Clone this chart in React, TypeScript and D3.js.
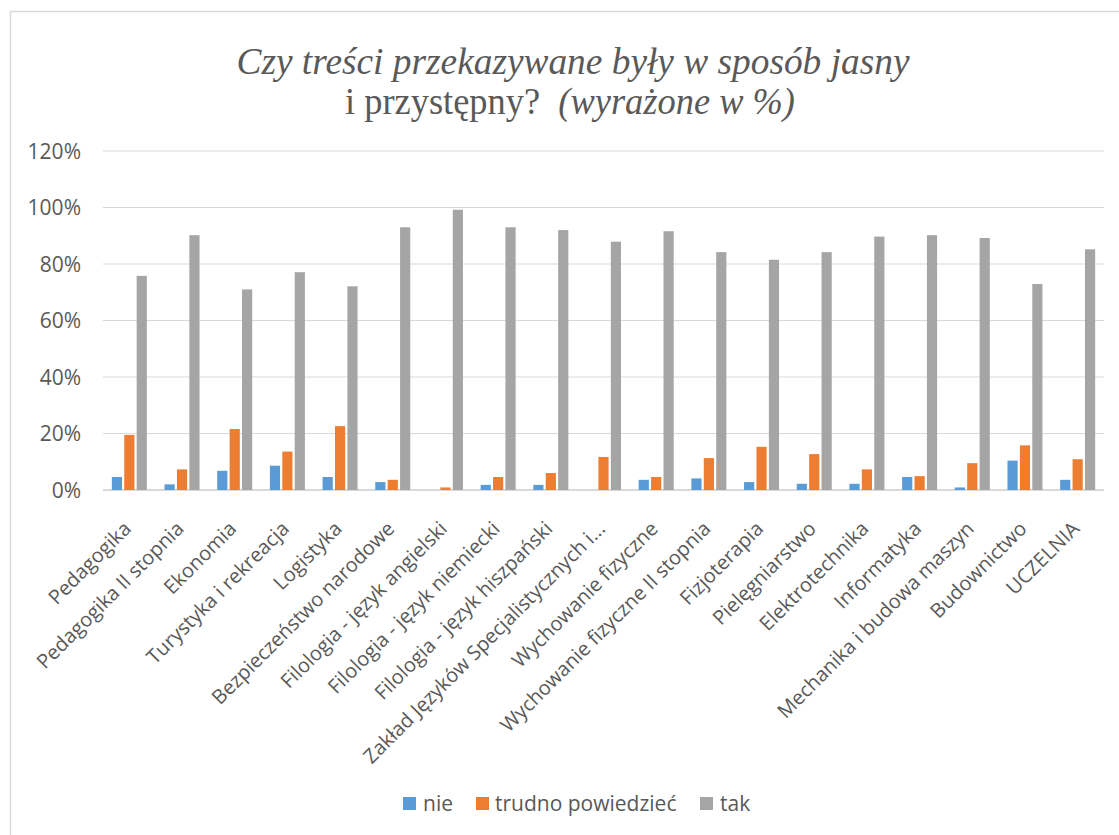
import React from "react";
import * as d3 from "d3";

const categories = [
  "Pedagogika",
  "Pedagogika II stopnia",
  "Ekonomia",
  "Turystyka i rekreacja",
  "Logistyka",
  "Bezpieczeństwo narodowe",
  "Filologia - język angielski",
  "Filologia - język niemiecki",
  "Filologia - język hiszpański",
  "Zakład Języków Specjalistycznych i...",
  "Wychowanie fizyczne",
  "Wychowanie fizyczne II stopnia",
  "Fizjoterapia",
  "Pielęgniarstwo",
  "Elektrotechnika",
  "Informatyka",
  "Mechanika i budowa maszyn",
  "Budownictwo",
  "UCZELNIA",
];

const nie = [4.6, 2.0, 6.8, 8.6, 4.6, 2.8, 0, 1.8, 1.8, 0, 3.6, 4.1, 2.8, 2.2, 2.2, 4.6, 0.9, 10.4, 3.6];
const trudno = [19.5, 7.3, 21.6, 13.6, 22.6, 3.6, 0.9, 4.6, 6.0, 11.7, 4.6, 11.3, 15.3, 12.7, 7.3, 4.9, 9.5, 15.8, 10.9];
const tak = [75.8, 90.2, 71.0, 77.1, 72.1, 93.0, 99.2, 93.0, 92.0, 87.9, 91.6, 84.2, 81.5, 84.2, 89.7, 90.2, 89.2, 72.9, 85.2];

const seriesNames = ["nie", "trudno powiedzieć", "tak"];
const seriesValues = [nie, trudno, tak];
const seriesColors = ["#5B9BD5", "#ED7D31", "#A5A5A5"];
const yTicks = [0, 20, 40, 60, 80, 100, 120];

const W = 1119;
const H = 835;
const plotLeft = 103;
const plotRight = 1104;
const plotTop = 151;
const plotBottom = 490;
const textColor = "#595959";
const font = "'Open Sans', sans-serif";

export default function App() {
  const x = d3.scaleBand<string>().domain(categories).range([plotLeft, plotRight]).padding(0);
  const y = d3.scaleLinear().domain([0, 120]).range([plotBottom, plotTop]);
  const inner = d3.scaleBand<string>().domain(seriesNames).range([-17.5, 17.5]).paddingInner(0.18);

  const legendItems = [
    { sq: 403, tx: 423 },
    { sq: 476, tx: 495 },
    { sq: 700, tx: 720 },
  ];

  return (
    <svg
      width={W}
      height={H}
      style={{ position: "absolute", left: 0, top: 0, background: "#fff" }}
      fontFamily={font}
    >
      <rect x={0} y={0} width={W} height={H} fill="#fff" />
      <rect x={10.5} y={11.5} width={1300} height={1000} fill="none" stroke="#D9D9D9" strokeWidth={1.5} />

      {/* Title */}
      <text
        x={573}
        y={74}
        textAnchor="middle"
        fontFamily="'Liberation Serif', 'DejaVu Serif', serif"
        fontStyle="italic"
        fontSize={38}
        fill={textColor}
        textLength={673}
        lengthAdjust="spacingAndGlyphs"
      >
        Czy treści przekazywane były w sposób jasny
      </text>
      <text
        x={570}
        y={114}
        textAnchor="middle"
        fontFamily="'Liberation Serif', 'DejaVu Serif', serif"
        fontSize={38}
        fill={textColor}
        textLength={450}
        lengthAdjust="spacingAndGlyphs"
      >
        <tspan>i przystępny?</tspan>
        <tspan fontStyle="italic">{"\u00A0\u00A0(wyrażone w %)"}</tspan>
      </text>

      {/* Gridlines */}
      {yTicks.map((t) => (
        <line
          key={"g" + t}
          x1={plotLeft}
          x2={plotRight}
          y1={y(t)}
          y2={y(t)}
          stroke="#D9D9D9"
          strokeWidth={t === 0 ? 2 : 1.2}
        />
      ))}

      {/* Y tick labels */}
      {yTicks.map((t) => (
        <text
          key={"yt" + t}
          x={81}
          y={y(t)}
          dy="0.36em"
          textAnchor="end"
          fontSize={21}
          fill={textColor}
        >
          {t + "%"}
        </text>
      ))}

      {/* Bars */}
      {categories.map((c, i) => {
        const cx = (x(c) as number) + x.bandwidth() / 2;
        return (
          <g key={"bar" + i}>
            {seriesNames.map((s, si) => {
              const v = seriesValues[si][i];
              if (v <= 0) return null;
              return (
                <rect
                  key={s}
                  x={cx + (inner(s) as number)}
                  y={y(v)}
                  width={inner.bandwidth()}
                  height={plotBottom - y(v)}
                  fill={seriesColors[si]}
                />
              );
            })}
          </g>
        );
      })}

      {/* Category labels */}
      {categories.map((c, i) => {
        const cx = (x(c) as number) + x.bandwidth() / 2;
        const px = cx + 3;
        const py = 530;
        return (
          <text
            key={"cl" + i}
            x={px}
            y={py}
            textAnchor="end"
            fontSize={20}
            fill={textColor}
            transform={`rotate(-45 ${px} ${py})`}
          >
            {c}
          </text>
        );
      })}

      {/* Legend */}
      {seriesNames.map((s, si) => (
        <g key={"lg" + si}>
          <rect x={legendItems[si].sq} y={797} width={13} height={13} fill={seriesColors[si]} />
          <text x={legendItems[si].tx} y={810.5} fontSize={21} fill={textColor}>
            {s}
          </text>
        </g>
      ))}
    </svg>
  );
}
